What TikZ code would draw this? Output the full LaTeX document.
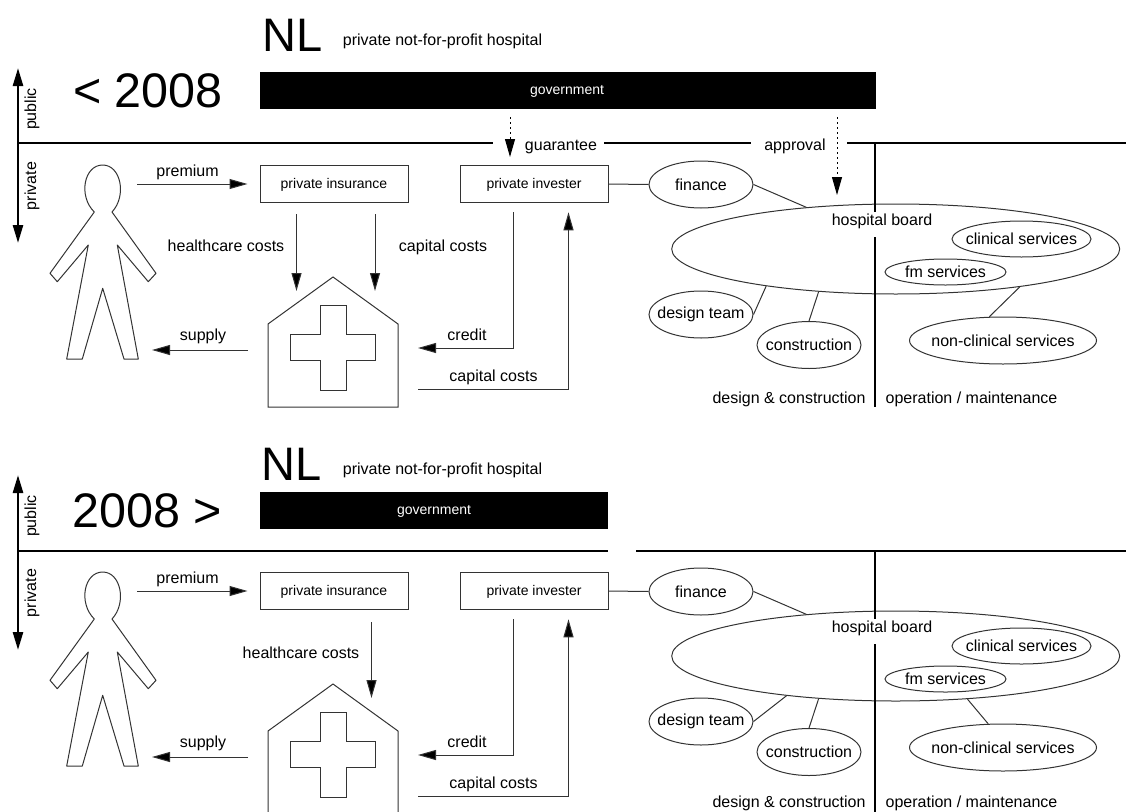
\documentclass[tikz,border=0pt]{standalone}
\usepackage{fontspec}
\setmainfont{Liberation Sans}
\usetikzlibrary{arrows.meta,shapes}
\tikzstyle{thinline}=[line width=1pt,draw=black!80]
\tikzstyle{heavy}=[line width=2.6pt,draw=black]
\tikzstyle{arrow}=[thinline,-{Triangle[length=18pt,width=10pt,fill=black]}]
\tikzstyle{axis}=[heavy,{Triangle[length=18pt,width=10pt]}-{Triangle[length=18pt,width=10pt]}]
\tikzstyle{hint}=[thinline,draw=black,dash pattern=on 2pt off 3pt,-{Triangle[length=18pt,width=10pt]}]
\tikzstyle{tag}=[font=\fontsize{16}{18}\selectfont,inner sep=0pt,text height=13.5pt,text depth=3.4pt]
\tikzstyle{box}=[thinline,rectangle,draw,minimum width=148pt,minimum height=36.5pt,inner sep=0pt,text height=11pt,text depth=3pt,font=\fontsize{14}{16}\selectfont]
\tikzstyle{bubble}=[thinline,ellipse,draw,inner sep=0pt,font=\fontsize{16}{18}\selectfont]
\tikzstyle{bar}=[fill=black,text=white,minimum height=37pt,inner sep=0pt,text height=11pt,text depth=3pt,font=\fontsize{14}{16}\selectfont]
\tikzstyle{big}=[anchor=base,inner sep=0pt,font=\fontsize{47}{50}\selectfont]
\tikzstyle{year}=[big,font=\fontsize{48.5}{50}\selectfont]

\begin{document}
\begin{tikzpicture}[x=1pt,y=-1pt]
    \path[use as bounding box,clip] (0,0) rectangle (1126,811);
    % what both periods share
    \foreach \p/\dy/\foot in {a/0/403,b/407/400}{
    \begin{scope}[yshift=-\dy pt]
        \foreach \pos/\name/\txt in {{(334,184)/insurance/private insurance}, {(534,184)/invester/private invester}}
            \node[box] (\name\p) at \pos {\txt};
        \foreach \pos/\name/\w/\h/\txt in {{(701,184.5)/finance/104/47/finance}, {(895.7,249)/board/448/90/},
            {(1021.5,239)/clinical/139/36/clinical services}, {(945.5,272)/fm/121/26/fm services},
            {(701,314.5)/design/104/47/design team}, {(809,345)/construction/104/47/construction},
            {(1003,340.5)/nonclinical/187/47/non-clinical services}}
            \node[bubble,minimum width=\w pt,minimum height=\h pt] (\name\p) at \pos {\makebox[0pt]{\txt}};
        \foreach \pos/\name/\txt in {{(187.5,171)/premiumtag/premium}, {(203,335)/supplytag/supply},
            {(467,335)/credittag/credit}, {(493.5,376)/capitaltag/capital costs},
            {(882,220)/boardtag/hospital board}}
            \node[tag] (\name\p) at \pos {\txt};
        \node[tag,anchor=base] (designtag\p) at (789,\foot) {design \& construction};
        \node[tag,anchor=base] (operationtag\p) at (971.5,\foot) {operation / maintenance};
        \node[tag,rotate=90] (publictag\p) at (31,109) {public};
        \node[tag,rotate=90] (privatetag\p) at (31,186) {private};
        \foreach \pos/\name in {{(18,68)/up}, {(18,243)/down}, {(137,184)/premiumfrom}, {(248,350)/supplyfrom},
            {(152,350)/supplyto}, {(418,348)/creditto}, {(418,389)/capitalfrom}, {(875,143)/divtop},
            {(875,212)/divmid}, {(875,237)/divlow}, {(875,407)/divend}}
            \path \pos coordinate (\name\p);
        \draw[axis] (up\p) -- (down\p);
        \draw[heavy] (divtop\p) -- (divmid\p);
        \draw[heavy] (divlow\p) -- (divend\p);
        % person
        \draw[thinline,line join=round] (94.3,212) .. controls (78,196) and (84,165) .. (102.7,165)
            .. controls (121,165) and (127,196) .. (112,212) -- (156,273.3) -- (148.3,281.7) -- (117.3,245)
            -- (138.3,359) -- (124,359) -- (102.7,288.3) -- (82.3,359) -- (66.7,359) -- (88.3,245)
            -- (57.3,281.7) -- (50,273.3) -- cycle;
        % hospital with its cross
        \draw[thinline] (268,324) -- (333,277) -- (398,324) -- (398,407) -- (268,407) -- cycle;
        \draw[thinline] (320,305) -- (346.7,305) -- (346.7,334.3) -- (375.7,334.3) -- (375.7,360.7) -- (346.7,360.7)
            -- (346.7,390) -- (320,390) -- (320,360.7) -- (290.7,360.7) -- (290.7,334.3) -- (320,334.3) -- cycle;
        \draw[arrow] (premiumfrom\p) -- ([xshift=-12pt]insurance\p.west);
        \draw[arrow] (supplyfrom\p) -- (supplyto\p);
        \draw[arrow] ([xshift=-21pt,yshift=-9.5pt]invester\p.south) |- (creditto\p);
        \draw[arrow] (capitalfrom\p) -| ([xshift=34.5pt,yshift=-9.5pt]invester\p.south);
        \path[thinline] (invester\p.east) edge (finance\p.west)
            (finance\p.east) edge (board\p.155)
            (construction\p.north) edge (board\p.209.6);
    \end{scope}
    }
    % before 2008
    \node[big] (nla) at (292.5,51) {NL};
    \node[tag] (kinda) at (442.5,40) {private not-for-profit hospital};
    \node[year] (yeara) at (148,107) {< 2008};
    \node[bar,minimum width=616pt] (bara) at (568,90.5) {\hspace{-2pt}government};
    \foreach \pos/\name in {{(18,143)/ruleone}, {(493,143)/ruletwo}, {(604,143)/rulethree}, {(751,143)/rulefour},
        {(847,143)/rulefive}, {(1126,143)/rulesix}, {(296.5,214)/carefrom}, {(296.5,291)/careto},
        {(375,214)/costfrom}, {(375,291)/costto}, {(510,117)/guaranteefrom}, {(510,157)/guaranteeto},
        {(837,117)/approvalfrom}, {(837,195)/approvalto}}
        \path \pos coordinate (\name);
    \draw[heavy] (ruleone) -- (ruletwo);
    \draw[heavy] (rulethree) -- (rulefour);
    \draw[heavy] (rulefive) -- (rulesix);
    \draw[arrow] (carefrom) -- (careto);
    \draw[arrow] (costfrom) -- (costto);
    \draw[hint] (guaranteefrom) -- (guaranteeto);
    \draw[hint] (approvalfrom) -- (approvalto);
    \foreach \pos/\name/\txt in {{(226,246)/caretag/healthcare costs}, {(443,246)/costtag/capital costs},
        {(561,145)/guaranteetag/guarantee}, {(795,145)/approvaltag/approval}}
        \node[tag] (\name) at \pos {\txt};
    \path[thinline] (designa.east) edge (boarda.196.4)
        (nonclinicala.120) edge (boarda.343.6);
    % after 2008
    \node[big] (nlb) at (292,480) {NL};
    \node[tag] (kindb) at (442.5,469) {private not-for-profit hospital};
    \node[year] (yearb) at (147,527) {2008 >};
    \node[bar,minimum width=348pt] (barb) at (434,510.5) {government};
    \foreach \pos/\name in {{(18,551)/lineone}, {(608,551)/linetwo}, {(636,551)/linethree}, {(1126,551)/linefour},
        {(371.5,622)/carelowfrom}, {(371.5,698)/carelowto}}
        \path \pos coordinate (\name);
    \draw[heavy] (lineone) -- (linetwo);
    \draw[heavy] (linethree) -- (linefour);
    \draw[arrow] (carelowfrom) -- (carelowto);
    \node[tag] (caretagb) at (301,653) {healthcare costs};
    \path[thinline] (designb.east) edge (boardb.200.3)
        (nonclinicalb.122) edge (boardb.329.2);
\end{tikzpicture}
\end{document}
